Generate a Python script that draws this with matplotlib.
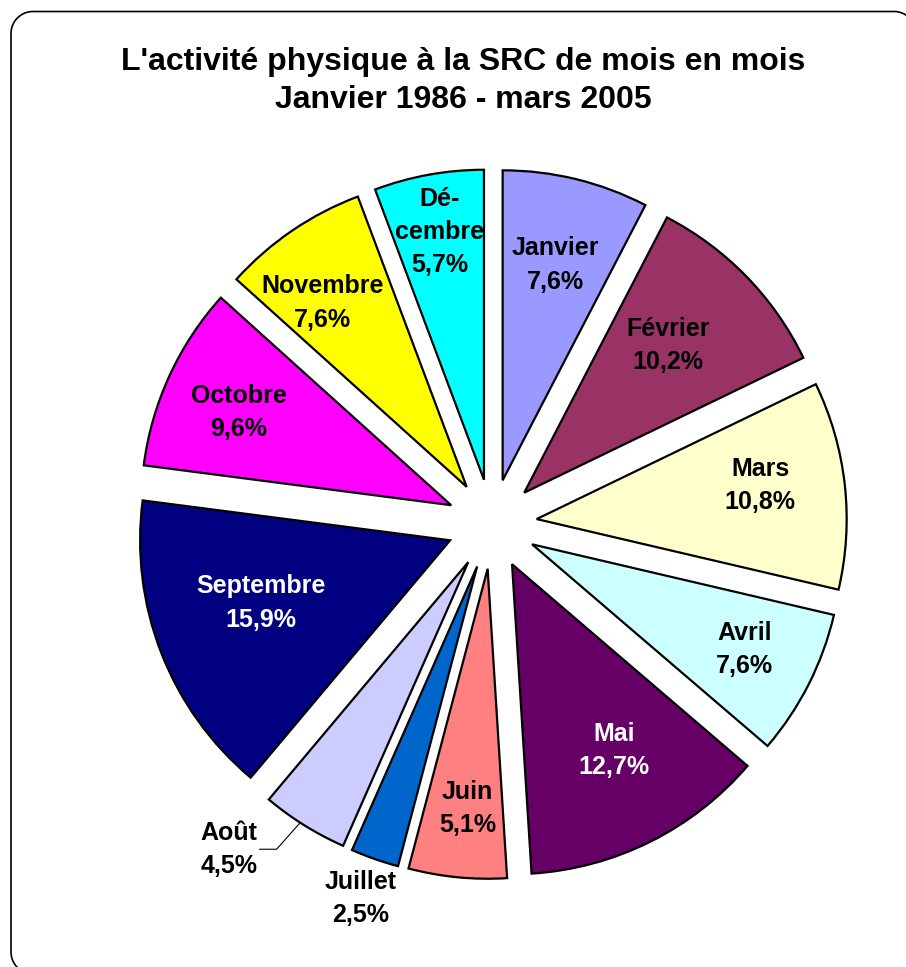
import numpy as np
import matplotlib.pyplot as plt

plt.rcParams['font.family'] = ['Liberation Sans', 'DejaVu Sans']

# data
months = ['Janvier', 'Février', 'Mars', 'Avril', 'Mai', 'Juin',
          'Juillet', 'Août', 'Septembre', 'Octobre', 'Novembre', 'Décembre']
shares = [7.6, 10.2, 10.8, 7.6, 12.7, 5.1, 2.5, 4.5, 15.9, 9.6, 7.6, 5.7]
label_names = ['Janvier', 'Février', 'Mars', 'Avril', 'Mai', 'Juin',
               'Juillet', 'Août', 'Septembre', 'Octobre', 'Novembre', 'Dé-\ncembre']
colors = ['#9999FF', '#993366', '#FFFFCC', '#CCFFFF', '#660066', '#FF8080',
          '#0066CC', '#CCCCFF', '#000080', '#FF00FF', '#FFFF00', '#00FFFF']
text_colors = ['black'] * 12
text_colors[4] = 'white'
text_colors[8] = 'white'

# label radial distance (pie radius = 1), and small angle nudges in degrees
lab_r = [0.86, 0.81, 0.874, 0.909, 0.83, 0.92, 1.28, 1.35, 0.787, 0.892, 0.898, 0.956]
lab_da = [0, 1.2, 1.8, 0.5, 1.8, 0.7, 0, 0, -2.4, 0.9, 3.2, -0.1]

W, H = 906, 967
cx, cy, scale = 492, 524, 310  # pie centre (px) and px per unit
explode_amt = 0.145

fig = plt.figure(figsize=(W / 100, H / 100), dpi=100)
ax = fig.add_axes([0, 0, 1, 1])


def px(x, y):
    # pixel position -> data coords
    return (np.asarray(x) - cx) / scale, (cy - np.asarray(y)) / scale


wedges, _ = ax.pie(shares, colors=colors, startangle=90, counterclock=False,
                   explode=[explode_amt] * len(shares), radius=1.0,
                   wedgeprops=dict(edgecolor='black', linewidth=1.6),
                   center=(0, 0), frame=False)

# frame: rounded rectangle running off the right and bottom edges
left, top, right, bottom, rad = 11, 11.5, 916, 974, 22
t = np.linspace(0, np.pi / 2, 20)
fx, fy = [], []
for (ccx, ccy, a0) in [(right - rad, top + rad, 0), (left + rad, top + rad, np.pi / 2),
                       (left + rad, bottom - rad, np.pi), (right - rad, bottom - rad, 1.5 * np.pi)]:
    fx.extend(ccx + rad * np.cos(a0 + t))
    fy.extend(ccy - rad * np.sin(a0 + t))
fx.append(fx[0])
fy.append(fy[0])
dx, dy = px(fx, fy)
ax.plot(dx, dy, color='black', lw=1.2, clip_on=False)

ax.set_xlim(-cx / scale, (W - cx) / scale)
ax.set_ylim(-(H - cy) / scale, cy / scale)
ax.set_aspect('equal')
ax.axis('off')

# labels
total = sum(shares)
start = 90.0
for i, (name, v) in enumerate(zip(label_names, shares)):
    span = v / total * 360
    mid = np.radians(start - span / 2)
    start -= span
    pct = f'{v:.1f}%'.replace('.', ',')
    r = lab_r[i]
    ang = mid + np.radians(lab_da[i])
    if months[i] == 'Août':
        ang = np.radians(-129)
        # leader line
        p0 = (1.0 + explode_amt) * np.array([np.cos(mid - 0.02), np.sin(mid - 0.02)])
        lx = r * np.cos(ang)
        ly = r * np.sin(ang)
        ax.plot([p0[0] + 0.005, p0[0] - 0.07, lx + 0.1],
                [p0[1] - 0.005, ly, ly], color='black', lw=0.8)
    ax.text(r * np.cos(ang), r * np.sin(ang), f'{name}\n{pct}',
            ha='center', va='center', fontsize=18, fontweight='bold',
            color=text_colors[i], linespacing=1.48)

fig.text(0.511, 1 - 81 / H, "L'activité physique à la SRC de mois en mois\nJanvier 1986 - mars 2005",
         ha='center', va='center', fontsize=23, fontweight='bold', linespacing=1.38)

fig.savefig('out.png', dpi=100)
